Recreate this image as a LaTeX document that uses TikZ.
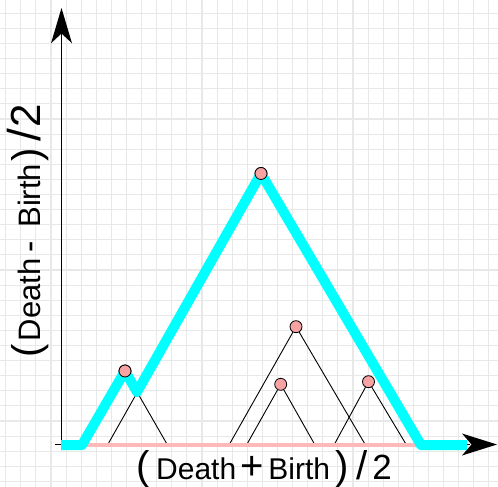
\documentclass[tikz,border=0pt]{standalone}
\usepackage{fontspec}
\setmainfont{Liberation Sans}
\definecolor{landcyan}{RGB}{0,255,255}
\definecolor{dotpink}{RGB}{248,163,163}
\definecolor{basepink}{RGB}{255,185,185}
\definecolor{gridgray}{RGB}{232,232,232}
\newcommand\lblpart[3]{\makebox[#1pt][c]{\fontsize{#2}{#2}\selectfont #3}}
\begin{document}
\begin{tikzpicture}[x=1pt,y=-1pt,
  gridline/.style={line width=1.1pt, draw=gridgray},
  axisline/.style={line width=1.5pt, draw=black},
  thinleg/.style={line width=0.9pt, draw=black},
  landscape/.style={line width=10pt, draw=landcyan, line join=round},
  basestrip/.style={line width=4.5pt, draw=basepink},
  dot/.style={circle, draw=black, line width=0.8pt, fill=dotpink, minimum size=12pt, inner sep=0pt},
  arrowhead/.style={fill=black, draw=none},
  lbl/.style={inner sep=0pt}
]
\useasboundingbox (0,0) rectangle (498,487);
\fill[white] (0,0) rectangle (498,487);
% grid
\foreach \k in {0,...,32} { \draw[gridline] ({5.7+15.1*\k},0) -- ({5.7+15.1*\k},487); }
\foreach \k in {0,...,31} { \draw[gridline] (0,{13.3+15.1*\k}) -- (498,{13.3+15.1*\k}); }
% axes
\coordinate (origin) at (61.5,444.5);
\coordinate (ytip) at (61.5,8);
\coordinate (xtip) at (497,444.5);
\coordinate (xstart) at (55,444.5);
\draw[axisline] (origin) -- (61.5,30);
\draw[axisline] (xstart) -- (470,444.5);
% points
\node[dot] (p1) at (125,371) {};
\node[dot] (p2) at (261,173.5) {};
\node[dot] (p3) at (296,326.7) {};
\node[dot] (p4) at (280.7,384.3) {};
\node[dot] (p5) at (368.5,381.7) {};
% base ends of legs
\coordinate (b1l) at (83,445);   \coordinate (b1r) at (167.5,445);
\coordinate (b2l) at (107.5,445); \coordinate (b2r) at (421,445);
\coordinate (b3l) at (229,445);  \coordinate (b3r) at (365.5,445);
\coordinate (b4l) at (246.5,445); \coordinate (b4r) at (315,445);
\coordinate (b5l) at (334,445);  \coordinate (b5r) at (406.5,445);
\draw[thinleg] (b1l) -- (p1.center) -- (b1r);
\draw[thinleg] (b2l) -- (p2.center) -- (b2r);
\draw[thinleg] (b3l) -- (p3) -- (b3r);
\draw[thinleg] (b4l) -- (p4) -- (b4r);
\draw[thinleg] (b5l) -- (p5) -- (b5r);
% pink base
\draw[basestrip] (b1l) -- (b2r);
% landscape
\coordinate (lstart) at (61,445);
\coordinate (lvalley) at (137,392);
\coordinate (lend) at (467,445);
\draw[landscape] (lstart) -- (82,445) -- (p1.center) -- (lvalley) -- (p2.center) -- (b2r) -- (lend);
% redraw dots on top
\node[dot] at (p1) {};
\node[dot] at (p2) {};
% arrowheads
\fill[arrowhead] (ytip) -- (72,43.3) -- (61.5,33.5) -- (51,43.3) -- cycle;
\fill[arrowhead] (xtip) -- (462,455.5) -- (471.5,444.5) -- (462,433.5) -- cycle;
% labels
\node[lbl, anchor=base west] (xlabel) at (130,479.5) {\lblpart{26}{40}{(}\lblpart{80}{30}{Death}\lblpart{31.4}{40}{+}\lblpart{63.2}{30}{Birth}\lblpart{22.8}{40}{)}\lblpart{16.2}{40}{/}\lblpart{24.8}{35}{2}};
\node[lbl, rotate=90, anchor=base west] (ylabel) at (40,364) {\lblpart{25}{40}{(}\lblpart{78}{31}{Death}\lblpart{28}{34}{-}\lblpart{74}{31}{Birth}\lblpart{8}{40}{)}\lblpart{32}{46}{/}\lblpart{6}{42}{2}};
\end{tikzpicture}
\end{document}
